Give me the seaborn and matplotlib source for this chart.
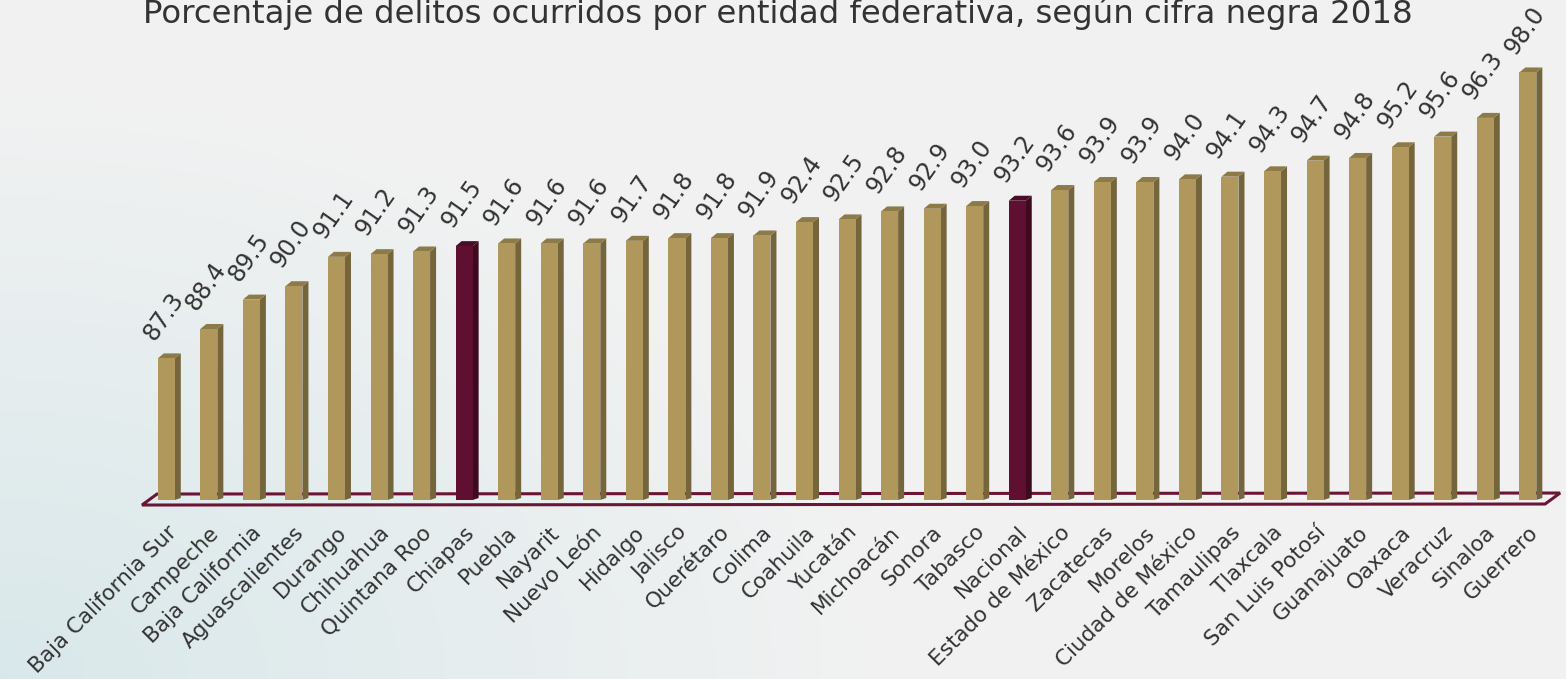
import numpy as np
import pandas as pd
import seaborn as sns
import matplotlib.pyplot as plt
from matplotlib.patches import Polygon

# data
estados = ['Baja California Sur', 'Campeche', 'Baja California', 'Aguascalientes',
           'Durango', 'Chihuahua', 'Quintana Roo', 'Chiapas', 'Puebla', 'Nayarit',
           'Nuevo León', 'Hidalgo', 'Jalisco', 'Querétaro', 'Colima', 'Coahuila',
           'Yucatán', 'Michoacán', 'Sonora', 'Tabasco', 'Nacional',
           'Estado de México', 'Zacatecas', 'Morelos', 'Ciudad de México',
           'Tamaulipas', 'Tlaxcala', 'San Luis Potosí', 'Guanajuato', 'Oaxaca',
           'Veracruz', 'Sinaloa', 'Guerrero']
cifra_negra = [87.3, 88.4, 89.5, 90.0, 91.1, 91.2, 91.3, 91.5, 91.6, 91.6,
               91.6, 91.7, 91.8, 91.8, 91.9, 92.4, 92.5, 92.8, 92.9, 93.0, 93.2,
               93.6, 93.9, 93.9, 94.0, 94.1, 94.3, 94.7, 94.8, 95.2,
               95.6, 96.3, 98.0]
resaltados = ['Chiapas', 'Nacional']
titulo = 'Porcentaje de delitos ocurridos por entidad federativa, según cifra negra 2018'

df = pd.DataFrame({'estado': estados, 'valor': cifra_negra})
df['grupo'] = np.where(df['estado'].isin(resaltados), 'resaltado', 'normal')

front = {'normal': '#b0985c', 'resaltado': '#5f0f30'}
side = {'normal': '#75653d', 'resaltado': '#3e0a1f'}
top = {'normal': '#8c7a48', 'resaltado': '#4a0c26'}
maroon = '#6b1535'

sns.set_style('white')
plt.rcParams['font.family'] = ['DejaVu Sans']

fig = plt.figure(figsize=(15.66, 6.79), dpi=100)

# soft background gradient (grey top-right, teal-ish bottom-left)
bg = fig.add_axes([0, 0, 1, 1], zorder=-10)
yy, xx = np.mgrid[0:1:200j, 0:1:400j]
d = np.sqrt((xx * 1.4) ** 2 + ((1 - yy) * 0.9) ** 2)
c1 = np.array([0.85, 0.91, 0.92])
c2 = np.array([0.949, 0.949, 0.949])
t = np.clip(d / 0.8, 0, 1)[..., None]
bg.imshow(c1 * (1 - t) + c2 * t, extent=[0, 1, 0, 1], aspect='auto', origin='upper')
bg.axis('off')

ax = fig.add_axes([0.0926, 0.2636, 0.8966, 0.7084])
ax.patch.set_alpha(0)
ymin = 82
sns.barplot(data=df, x='estado', y='valor', hue='grupo', palette=front,
            dodge=False, legend=False, width=0.40, saturation=1,
            edgecolor='none', linewidth=0, ax=ax, zorder=3)
ax.set_ylim(ymin, 100)
ax.set_xlim(-0.5, len(estados) - 0.5)

# floor parallelogram
px = 1 / 42.55   # data units per pixel in x
py = 1 / 26.73   # data units per pixel in y
floor = Polygon([(-0.5 - 3 * px, ymin - 5 * py), (-0.5 + 12 * px, ymin + 6 * py),
                 (len(estados) - 0.5 + 11 * px, ymin + 7 * py),
                 (len(estados) - 0.5 - 4 * px, ymin - 4 * py)],
                closed=True, facecolor='none', edgecolor=maroon, lw=2.2,
                clip_on=False, zorder=1)
ax.add_patch(floor)

# pseudo 3d faces on each bar (matched by bar position)
dx, dy = 6 * px, 5 * py
for bar in list(ax.patches):
    if bar is floor or bar.get_height() <= 0:
        continue
    x0 = bar.get_x()
    x1 = x0 + bar.get_width()
    i = int(round(x0 + bar.get_width() / 2))
    h = df['valor'].iloc[i]
    g = df['grupo'].iloc[i]
    ax.add_patch(Polygon([(x1, ymin), (x1 + dx, ymin + dy * 0.4), (x1 + dx, h + dy), (x1, h)],
                         closed=True, facecolor=side[g], edgecolor='none', zorder=2.5, clip_on=False))
    ax.add_patch(Polygon([(x0, h), (x0 + dx, h + dy), (x1 + dx, h + dy), (x1, h)],
                         closed=True, facecolor=top[g], edgecolor='none', zorder=2.5, clip_on=False))

# value labels
for i, v in enumerate(df['valor']):
    ax.annotate(f'{v:.1f}', xy=(i, v), xytext=(-8, 14), textcoords='offset pixels',
                rotation=55, rotation_mode='anchor', ha='left', va='bottom',
                fontsize=17, color='#333333', annotation_clip=False)

ax.set_xticks(range(len(estados)))
ax.set_xticklabels(estados, rotation=45, ha='right', rotation_mode='anchor',
                   fontsize=15.5, color='#333333')
ax.tick_params(axis='x', length=0, pad=16)
ax.set_yticks([])
ax.set_xlabel('')
ax.set_ylabel('')
sns.despine(ax=ax, left=True, bottom=True)

fig.text(0.497, 1 - 23 / 679, titulo, ha='center', va='baseline',
         fontsize=23.3, color='#333333')

fig.savefig('out.png', dpi=100)
